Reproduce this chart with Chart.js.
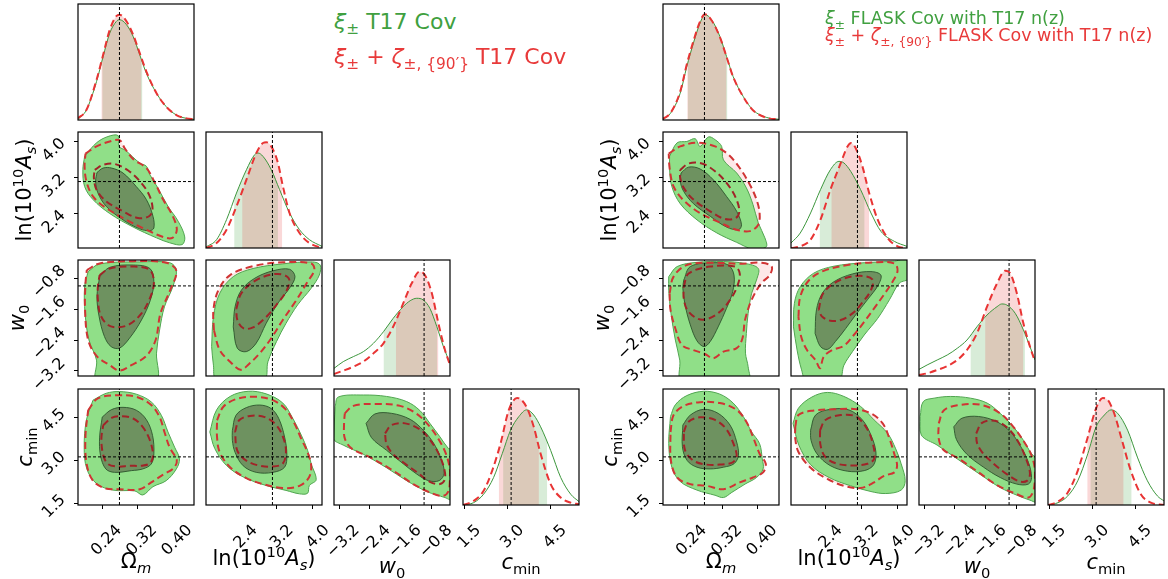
<!DOCTYPE html>
<html>
<head>
<meta charset="utf-8">
<script src="https://cdn.jsdelivr.net/npm/chart.js@4.4.0/dist/chart.umd.min.js"></script>
<style>
  body { margin: 0; background: #fff; width: 1168px; height: 579px; position: relative; overflow: hidden; font-family: "DejaVu Sans", sans-serif; }
  canvas { position: absolute; }
  .lab { position: absolute; white-space: nowrap; font-size: 21px; color: #000; transform: translate(-50%, -50%); }
  .ylab { transform: translate(-50%, -50%) rotate(-90deg); }
  .leg { position: absolute; white-space: nowrap; }
  sub, sup { font-size: 70%; line-height: 0; }
</style>
</head>
<body>
<script>
// axes: Omega_m, ln(10^10 A_s), w0, c_min
const omRange = [0.185, 0.448], asRange = [1.625, 4.2], wRange = [-3.33, -0.33], cRange = [1.45, 5.5];
const omTicks = [0.24, 0.32, 0.40], asTicks = [2.4, 3.2, 4.0], wTicks = [-3.2, -2.4, -1.6, -0.8], cTicks = [1.5, 3.0, 4.5];
const truthValues = [0.279, 3.1, -1.0, 3.13];

// ---------- left: T17 Cov ----------
// 1D marginals [x, density]; bands = [lo, yLo, hi, yHi]
const L_om_g = [[0.185,.006],[0.204,.086],[0.227,.331],[0.242,.548],[0.257,.749],[0.272,.850],[0.279,.865],[0.295,.821],[0.310,.720],[0.325,.562],[0.340,.403],[0.363,.231],[0.385,.115],[0.408,.043],[0.431,.014],[0.448,.006]];
const L_om_r = [[0.185,.014],[0.204,.086],[0.227,.346],[0.242,.562],[0.257,.778],[0.272,.896],[0.279,.908],[0.295,.850],[0.310,.735],[0.325,.576],[0.340,.418],[0.363,.231],[0.385,.115],[0.408,.043],[0.431,.014],[0.448,.006]];
const L_om_gb = [0.240, .52, 0.331, .49], L_om_rb = [0.238, .51, 0.329, .52];
const L_as_g = [[1.625,.009],[1.86,.072],[2.081,.244],[2.302,.474],[2.523,.675],[2.706,.805],[2.78,.819],[2.89,.790],[3.074,.675],[3.258,.503],[3.479,.302],[3.70,.158],[3.92,.072],[4.20,.014]];
const L_as_r = [[1.625,0],[1.86,.043],[2.081,.158],[2.302,.359],[2.523,.589],[2.743,.819],[2.89,.905],[2.964,.911],[3.074,.876],[3.222,.733],[3.332,.532],[3.479,.302],[3.70,.129],[3.92,.043],[4.20,0]];
const L_as_gb = [2.25, .42, 3.222, .54], L_as_rb = [2.427, .49, 3.317, .56];
const L_w_g = [[-3.33,.066],[-3.09,.124],[-2.83,.167],[-2.57,.210],[-2.31,.282],[-2.05,.382],[-1.80,.497],[-1.54,.598],[-1.36,.649],[-1.19,.670],[-1.02,.655],[-0.85,.583],[-0.67,.425],[-0.50,.253],[-0.33,.109]];
const L_w_r = [[-3.33,.017],[-3.09,.046],[-2.83,.080],[-2.57,.124],[-2.31,.195],[-2.05,.282],[-1.80,.425],[-1.54,.626],[-1.32,.799],[-1.12,.899],[-0.98,.871],[-0.80,.713],[-0.63,.454],[-0.46,.224],[-0.33,.095]];
const L_w_gb = [-2.05, .382, -0.66, .41], L_w_rb = [-1.73, .48, -0.63, .454];
const L_c_g = [[1.45,0],[1.82,.020],[2.17,.093],[2.52,.238],[2.82,.442],[3.11,.645],[3.40,.762],[3.67,.820],[3.92,.776],[4.16,.674],[4.51,.471],[4.86,.238],[5.21,.093],[5.50,.029]];
const L_c_r = [[1.45,0],[1.82,.035],[2.17,.122],[2.47,.297],[2.76,.529],[3.05,.820],[3.34,.922],[3.46,.913],[3.69,.834],[3.92,.674],[4.16,.442],[4.51,.180],[4.86,.064],[5.21,.020],[5.50,.006]];
const L_c_gb = [2.85, .46, 4.39, .54], L_c_rb = [2.70, .48, 4.10, .50];

// 2D contours (95% and 68%)
const L_om_as_g95 = [[0.200,3.66],[0.227,3.96],[0.253,4.10],[0.276,4.12],[0.278,3.88],[0.293,3.79],[0.325,3.51],[0.340,3.44],[0.348,3.25],[0.366,2.96],[0.389,2.55],[0.412,2.22],[0.427,1.87],[0.421,1.70],[0.393,1.74],[0.363,1.85],[0.310,2.09],[0.257,2.39],[0.219,2.70],[0.200,2.99],[0.196,3.36]];
const L_om_as_g68 = [[0.228,3.30],[0.242,3.40],[0.261,3.40],[0.287,3.29],[0.317,2.99],[0.340,2.70],[0.355,2.33],[0.357,2.07],[0.348,2.01],[0.325,2.05],[0.287,2.25],[0.249,2.55],[0.230,2.85],[0.225,3.11]];
const L_om_as_r95 = [[0.202,3.72],[0.227,3.88],[0.257,3.99],[0.279,4.02],[0.291,3.84],[0.310,3.60],[0.340,3.40],[0.359,3.08],[0.378,2.70],[0.400,2.33],[0.409,2.03],[0.399,1.85],[0.378,1.87],[0.340,2.03],[0.295,2.25],[0.249,2.51],[0.219,2.77],[0.204,3.11],[0.200,3.44]];
const L_om_as_r68 = [[0.223,3.36],[0.242,3.47],[0.268,3.49],[0.298,3.35],[0.325,3.11],[0.346,2.81],[0.354,2.49],[0.346,2.33],[0.321,2.29],[0.287,2.44],[0.249,2.66],[0.227,2.92],[0.221,3.18]];

const L_om_w_g95 = [[0.208,-0.63],[0.234,-0.43],[0.325,-0.38],[0.393,-0.40],[0.408,-0.59],[0.400,-1.02],[0.381,-1.54],[0.370,-2.14],[0.363,-2.74],[0.361,-3.45],[0.228,-3.45],[0.227,-2.92],[0.210,-2.40],[0.201,-1.71],[0.200,-1.02]];
const L_om_w_g68 = [[0.234,-0.76],[0.257,-0.52],[0.310,-0.46],[0.348,-0.55],[0.357,-0.89],[0.349,-1.37],[0.329,-1.88],[0.302,-2.35],[0.279,-2.61],[0.260,-2.57],[0.245,-2.31],[0.233,-1.80],[0.228,-1.28]];
const L_om_w_r95 = [[0.205,-0.59],[0.234,-0.42],[0.310,-0.36],[0.385,-0.40],[0.408,-0.61],[0.394,-1.11],[0.372,-1.71],[0.361,-2.40],[0.340,-2.81],[0.306,-3.05],[0.279,-3.19],[0.257,-3.05],[0.227,-2.81],[0.208,-2.40],[0.201,-1.62],[0.202,-0.93]];
const L_om_w_r68 = [[0.234,-0.72],[0.257,-0.55],[0.310,-0.50],[0.348,-0.59],[0.357,-0.93],[0.348,-1.32],[0.329,-1.71],[0.302,-1.99],[0.276,-2.07],[0.253,-2.01],[0.236,-1.75],[0.230,-1.36],[0.230,-1.02]];

const L_as_w_g95 = [[1.75,-2.57],[1.79,-1.80],[1.93,-1.19],[2.23,-0.76],[2.67,-0.55],[3.33,-0.43],[3.99,-0.38],[4.16,-0.46],[4.14,-0.72],[3.96,-1.06],[3.66,-1.49],[3.40,-1.97],[3.19,-2.44],[3.00,-2.96],[2.91,-3.42],[1.86,-3.42],[1.79,-3.05]];
const L_as_w_g68 = [[2.23,-2.06],[2.27,-1.54],[2.41,-1.11],[2.71,-0.80],[3.11,-0.61],[3.48,-0.57],[3.60,-0.76],[3.49,-1.04],[3.22,-1.45],[2.96,-1.97],[2.74,-2.48],[2.52,-2.70],[2.32,-2.61]];
const L_as_w_r95 = [[1.80,-2.14],[1.79,-1.62],[1.90,-1.11],[2.16,-0.72],[2.67,-0.49],[3.33,-0.39],[3.96,-0.42],[4.03,-0.59],[3.88,-0.89],[3.63,-1.37],[3.33,-1.88],[3.07,-2.36],[2.82,-2.74],[2.58,-3.02],[2.39,-3.17],[2.16,-2.96],[1.93,-2.66]];
const L_as_w_r68 = [[2.30,-1.58],[2.41,-1.19],[2.74,-0.85],[3.19,-0.69],[3.46,-0.80],[3.42,-1.11],[3.19,-1.49],[2.93,-1.84],[2.67,-2.07],[2.46,-2.10],[2.32,-1.88]];

const L_om_c_g95 = [[0.219,5.11],[0.249,5.35],[0.279,5.41],[0.317,5.32],[0.351,5.05],[0.374,4.58],[0.389,4.00],[0.404,3.47],[0.415,3.06],[0.408,2.71],[0.385,2.30],[0.355,2.09],[0.332,1.80],[0.314,1.94],[0.264,1.97],[0.227,2.20],[0.205,2.71],[0.199,3.47],[0.204,4.41]];
const L_om_c_g68 = [[0.240,4.52],[0.261,4.78],[0.287,4.86],[0.317,4.76],[0.340,4.43],[0.354,3.88],[0.357,3.24],[0.351,2.88],[0.332,2.71],[0.306,2.65],[0.268,2.59],[0.248,2.71],[0.236,3.18],[0.234,3.82]];
const L_om_c_r95 = [[0.208,4.76],[0.230,5.17],[0.272,5.28],[0.317,5.23],[0.351,4.94],[0.370,4.52],[0.381,4.00],[0.393,3.45],[0.409,3.02],[0.402,2.74],[0.378,2.51],[0.351,2.24],[0.325,2.00],[0.279,2.00],[0.245,2.04],[0.218,2.32],[0.204,2.94],[0.202,3.88]];
const L_om_c_r68 = [[0.242,4.23],[0.261,4.49],[0.283,4.55],[0.310,4.47],[0.332,4.17],[0.348,3.71],[0.355,3.21],[0.349,2.92],[0.329,2.82],[0.302,2.82],[0.276,2.79],[0.253,2.88],[0.242,3.21],[0.238,3.76]];

const L_as_c_g95 = [[1.71,4.00],[1.86,4.77],[2.16,5.24],[2.56,5.42],[2.96,5.33],[3.33,5.01],[3.55,4.48],[3.74,3.89],[3.88,3.36],[3.96,2.89],[4.07,2.33],[3.92,2.13],[3.88,1.86],[3.70,1.84],[3.40,1.96],[2.96,2.13],[2.45,2.43],[2.08,2.83],[1.82,3.42]];
const L_as_c_g68 = [[2.21,4.05],[2.29,4.58],[2.52,4.85],[2.82,4.94],[3.07,4.82],[3.24,4.47],[3.37,3.82],[3.42,3.21],[3.37,2.77],[3.11,2.59],[2.74,2.59],[2.45,2.82],[2.27,3.29],[2.21,3.71]];
const L_as_c_r95 = [[1.87,4.41],[2.01,4.88],[2.30,5.15],[2.71,5.23],[3.11,5.11],[3.40,4.78],[3.59,4.29],[3.74,3.76],[3.88,3.29],[3.96,2.82],[3.91,2.41],[3.70,2.12],[3.33,2.04],[2.89,2.18],[2.52,2.39],[2.16,2.77],[1.93,3.29],[1.87,3.82]];
const L_as_c_r68 = [[2.27,4.00],[2.36,4.41],[2.60,4.56],[2.93,4.52],[3.19,4.23],[3.35,3.76],[3.40,3.29],[3.33,2.90],[3.11,2.79],[2.82,2.82],[2.52,3.00],[2.32,3.35]];

const L_w_c_g95 = [[-3.30,4.89],[-3.22,5.22],[-2.57,5.29],[-1.97,5.24],[-1.45,5.06],[-1.11,4.75],[-0.85,4.30],[-0.59,3.83],[-0.37,3.42],[-0.30,3.40],[-0.30,1.65],[-0.46,1.71],[-0.93,1.92],[-1.45,2.30],[-1.97,2.75],[-2.57,3.22],[-3.09,3.54],[-3.34,3.77]];
const L_w_c_g68 = [[-2.50,4.30],[-2.27,4.63],[-1.84,4.65],[-1.36,4.44],[-1.02,4.06],[-0.76,3.62],[-0.56,3.06],[-0.48,2.56],[-0.61,2.30],[-0.89,2.30],[-1.19,2.53],[-1.54,2.89],[-1.97,3.36],[-2.36,3.80]];
const L_w_c_r95 = [[-3.05,4.65],[-2.83,4.91],[-2.23,4.98],[-1.62,4.91],[-1.19,4.63],[-0.85,4.18],[-0.61,3.71],[-0.43,3.22],[-0.33,2.65],[-0.35,2.00],[-0.50,1.77],[-0.85,1.89],[-1.28,2.18],[-1.80,2.65],[-2.40,3.12],[-2.87,3.42],[-3.05,3.77],[-3.07,4.30]];
const L_w_c_r68 = [[-2.01,3.95],[-1.84,4.24],[-1.49,4.30],[-1.11,4.09],[-0.85,3.73],[-0.63,3.26],[-0.49,2.77],[-0.46,2.36],[-0.59,2.18],[-0.85,2.26],[-1.15,2.56],[-1.49,2.89],[-1.80,3.22],[-1.97,3.57]];

// ---------- right: FLASK Cov with T17 n(z) ----------
const R_om_g = [[0.185,.006],[0.202,.058],[0.224,.231],[0.239,.461],[0.254,.663],[0.269,.836],[0.280,.908],[0.295,.865],[0.314,.720],[0.329,.548],[0.344,.375],[0.367,.202],[0.389,.086],[0.419,.023],[0.448,.006]];
const R_om_r = [[0.185,.010],[0.202,.060],[0.224,.245],[0.239,.480],[0.254,.680],[0.269,.850],[0.280,.912],[0.295,.860],[0.314,.715],[0.329,.545],[0.344,.372],[0.367,.200],[0.389,.084],[0.419,.020],[0.448,.004]];
const R_om_gb = [0.241, .49, 0.331, .52], R_om_rb = [0.240, .50, 0.329, .55];
const R_as_g = [[1.625,.043],[1.83,.129],[2.06,.302],[2.28,.503],[2.50,.675],[2.69,.747],[2.80,.733],[2.95,.661],[3.17,.503],[3.40,.302],[3.62,.144],[3.92,.057],[4.20,.014]];
const R_as_r = [[1.625,0],[1.83,.014],[2.06,.072],[2.28,.244],[2.50,.503],[2.73,.733],[2.88,.876],[2.96,.905],[3.06,.862],[3.21,.704],[3.36,.474],[3.55,.244],[3.77,.086],[3.99,.014],[4.20,0]];
const R_as_gb = [2.26, .48, 3.26, .42], R_as_rb = [2.52, .52, 3.36, .474];
const R_w_g = [[-3.33,.057],[-3.12,.095],[-2.86,.138],[-2.60,.181],[-2.34,.239],[-2.09,.310],[-1.83,.425],[-1.57,.526],[-1.31,.598],[-1.19,.621],[-1.06,.612],[-0.84,.540],[-0.63,.397],[-0.46,.253],[-0.33,.138]];
const R_w_r = [[-3.33,.009],[-3.12,.023],[-2.86,.052],[-2.60,.086],[-2.34,.138],[-2.09,.224],[-1.83,.368],[-1.57,.598],[-1.31,.799],[-1.10,.908],[-0.97,.885],[-0.80,.713],[-0.63,.454],[-0.46,.253],[-0.33,.124]];
const R_w_gb = [-2.00, .35, -0.59, .36], R_w_rb = [-1.62, .55, -0.63, .454];
const R_c_g = [[1.45,0],[1.80,.020],[2.14,.078],[2.49,.209],[2.84,.442],[3.13,.674],[3.42,.776],[3.65,.820],[3.88,.791],[4.23,.645],[4.57,.413],[4.92,.209],[5.27,.078],[5.50,.035]];
const R_c_r = [[1.45,0],[1.80,.029],[2.14,.108],[2.49,.297],[2.84,.587],[3.13,.834],[3.36,.922],[3.53,.907],[3.76,.791],[4.00,.587],[4.34,.297],[4.69,.093],[5.04,.020],[5.50,0]];
const R_c_gb = [2.93, .51, 4.37, .55], R_c_rb = [2.82, .57, 4.09, .51];

const R_om_as_g95 = [[0.200,3.66],[0.217,3.96],[0.239,3.99],[0.258,4.05],[0.269,3.88],[0.288,4.09],[0.303,4.03],[0.318,3.88],[0.322,3.58],[0.352,3.29],[0.374,2.96],[0.389,2.59],[0.401,2.18],[0.416,1.85],[0.419,1.65],[0.389,1.60],[0.352,1.75],[0.307,1.96],[0.262,2.25],[0.224,2.61],[0.205,2.99],[0.200,3.36]];
const R_om_as_g68 = [[0.226,3.29],[0.243,3.42],[0.269,3.38],[0.299,3.14],[0.329,2.77],[0.352,2.44],[0.363,2.14],[0.356,2.03],[0.329,2.09],[0.292,2.33],[0.254,2.61],[0.232,2.88],[0.224,3.11]];
const R_om_as_r95 = [[0.198,3.72],[0.224,3.88],[0.262,3.96],[0.303,3.88],[0.333,3.70],[0.359,3.40],[0.382,3.03],[0.397,2.70],[0.404,2.40],[0.401,2.14],[0.382,2.00],[0.352,2.03],[0.314,2.19],[0.269,2.40],[0.232,2.68],[0.209,2.99],[0.200,3.40]];
const R_om_as_r68 = [[0.224,3.36],[0.243,3.50],[0.273,3.50],[0.303,3.33],[0.329,3.07],[0.350,2.74],[0.358,2.44],[0.350,2.29],[0.325,2.27],[0.292,2.44],[0.254,2.70],[0.232,2.96],[0.224,3.18]];

const R_om_w_g95 = [[0.198,-0.76],[0.217,-0.50],[0.262,-0.39],[0.322,-0.37],[0.371,-0.42],[0.401,-0.55],[0.397,-0.85],[0.386,-1.19],[0.378,-1.71],[0.374,-2.23],[0.372,-2.74],[0.378,-3.09],[0.378,-3.48],[0.228,-3.48],[0.223,-2.92],[0.213,-2.40],[0.203,-1.71],[0.198,-1.11]];
const R_om_w_g68 = [[0.232,-0.85],[0.247,-0.50],[0.299,-0.40],[0.333,-0.46],[0.346,-0.72],[0.343,-1.15],[0.329,-1.58],[0.310,-2.06],[0.292,-2.44],[0.278,-2.57],[0.262,-2.42],[0.247,-2.01],[0.235,-1.49],[0.230,-1.06]];
const R_om_w_r95 = [[0.200,-1.19],[0.209,-0.76],[0.239,-0.46],[0.299,-0.40],[0.359,-0.43],[0.404,-0.40],[0.431,-0.49],[0.427,-0.72],[0.408,-0.93],[0.386,-1.36],[0.371,-1.88],[0.365,-2.36],[0.352,-2.61],[0.322,-2.70],[0.299,-2.87],[0.280,-2.76],[0.254,-2.66],[0.228,-2.53],[0.213,-2.10],[0.202,-1.62]];
const R_om_w_r68 = [[0.232,-1.02],[0.243,-0.68],[0.292,-0.50],[0.348,-0.50],[0.359,-0.68],[0.353,-1.02],[0.337,-1.36],[0.314,-1.67],[0.284,-1.86],[0.262,-1.84],[0.240,-1.62],[0.232,-1.32]];

const R_as_w_g95 = [[1.68,-2.06],[1.70,-1.45],[1.83,-1.02],[2.13,-0.67],[2.58,-0.49],[3.25,-0.40],[3.92,-0.36],[4.25,-0.30],[4.25,-0.80],[4.03,-0.93],[3.81,-1.36],[3.55,-1.84],[3.25,-2.27],[2.99,-2.70],[2.80,-3.05],[2.69,-3.43],[1.96,-3.43],[1.86,-3.17],[1.76,-2.66]];
const R_as_w_g68 = [[2.16,-2.23],[2.19,-1.62],[2.32,-1.19],[2.58,-0.89],[2.99,-0.69],[3.40,-0.63],[3.62,-0.72],[3.56,-0.98],[3.32,-1.36],[3.06,-1.75],[2.84,-2.10],[2.61,-2.44],[2.44,-2.64],[2.28,-2.57]];
const R_as_w_r95 = [[1.79,-1.80],[1.83,-1.28],[2.02,-0.86],[2.35,-0.61],[2.88,-0.46],[3.47,-0.39],[3.92,-0.42],[3.99,-0.61],[3.88,-0.89],[3.68,-1.24],[3.47,-1.58],[3.25,-1.93],[3.02,-2.27],[2.80,-2.55],[2.54,-2.66],[2.35,-2.83],[2.27,-3.13],[2.17,-2.92],[1.98,-2.66],[1.85,-2.31]];
const R_as_w_r68 = [[2.24,-1.62],[2.34,-1.19],[2.69,-0.86],[3.14,-0.74],[3.43,-0.83],[3.40,-1.11],[3.21,-1.43],[2.99,-1.71],[2.73,-1.88],[2.50,-1.90],[2.32,-1.80]];

const R_om_c_g95 = [[0.202,4.54],[0.213,4.95],[0.239,5.27],[0.277,5.42],[0.314,5.32],[0.344,5.01],[0.367,4.54],[0.386,4.00],[0.404,3.59],[0.410,3.06],[0.412,2.71],[0.397,2.41],[0.371,2.18],[0.341,1.89],[0.322,1.71],[0.303,1.79],[0.262,1.97],[0.224,2.27],[0.205,2.77],[0.198,3.59]];
const R_om_c_g68 = [[0.230,4.24],[0.247,4.59],[0.277,4.79],[0.310,4.65],[0.337,4.24],[0.352,3.65],[0.356,3.18],[0.346,2.89],[0.322,2.77],[0.292,2.71],[0.262,2.77],[0.240,3.00],[0.229,3.48]];
const R_om_c_r95 = [[0.202,4.00],[0.209,4.59],[0.232,4.91],[0.269,5.04],[0.314,5.01],[0.352,4.77],[0.374,4.36],[0.389,3.83],[0.404,3.24],[0.418,2.89],[0.412,2.59],[0.389,2.41],[0.359,2.24],[0.322,2.00],[0.284,2.12],[0.247,2.18],[0.217,2.41],[0.203,3.00]];
const R_om_c_r68 = [[0.232,4.00],[0.243,4.36],[0.269,4.51],[0.303,4.42],[0.329,4.09],[0.346,3.54],[0.352,3.15],[0.343,2.94],[0.314,2.86],[0.284,2.86],[0.254,3.00],[0.235,3.36]];

const R_as_c_g95 = [[1.67,4.30],[1.79,4.83],[2.09,5.22],[2.43,5.38],[2.80,5.24],[3.17,4.89],[3.47,4.42],[3.77,3.95],[3.95,3.41],[4.07,2.89],[4.16,2.30],[4.07,1.97],[3.73,1.85],[3.40,1.92],[2.95,2.12],[2.47,2.41],[2.06,2.86],[1.80,3.54]];
const R_as_c_g68 = [[2.06,4.06],[2.17,4.59],[2.50,4.79],[2.91,4.77],[3.21,4.42],[3.40,3.89],[3.51,3.30],[3.46,2.85],[3.25,2.65],[2.88,2.63],[2.49,2.83],[2.20,3.24],[2.07,3.71]];
const R_as_c_r95 = [[1.72,4.18],[1.79,4.59],[2.13,4.75],[2.58,4.79],[3.02,4.80],[3.40,4.65],[3.66,4.30],[3.81,3.77],[3.92,3.22],[3.98,2.83],[3.92,2.59],[3.69,2.47],[3.47,2.24],[3.17,2.04],[2.80,2.12],[2.43,2.36],[2.06,2.75],[1.79,3.30],[1.72,3.77]];
const R_as_c_r68 = [[2.27,4.06],[2.39,4.42],[2.73,4.59],[3.06,4.54],[3.31,4.12],[3.45,3.54],[3.47,3.06],[3.32,2.89],[3.02,2.83],[2.65,2.89],[2.39,3.12],[2.28,3.54]];

const R_w_c_g95 = [[-3.30,4.54],[-3.22,5.06],[-2.94,5.18],[-2.52,5.24],[-2.00,5.18],[-1.57,5.01],[-1.23,4.65],[-0.89,4.18],[-0.63,3.71],[-0.42,3.24],[-0.24,3.00],[-0.24,1.55],[-0.46,1.62],[-0.76,1.77],[-1.23,2.06],[-1.74,2.51],[-2.34,3.06],[-2.86,3.54],[-3.27,3.89]];
const R_w_c_g68 = [[-2.43,4.18],[-2.22,4.48],[-1.79,4.54],[-1.32,4.36],[-0.97,4.01],[-0.72,3.54],[-0.50,2.94],[-0.42,2.41],[-0.50,2.18],[-0.80,2.18],[-1.23,2.41],[-1.66,2.77],[-2.09,3.22],[-2.36,3.73]];
const R_w_c_r95 = [[-2.82,4.30],[-2.69,4.75],[-2.34,4.93],[-1.74,4.95],[-1.23,4.65],[-0.89,4.18],[-0.61,3.65],[-0.42,3.18],[-0.33,2.65],[-0.36,2.00],[-0.50,1.71],[-0.84,1.85],[-1.32,2.15],[-1.83,2.63],[-2.34,3.10],[-2.70,3.38],[-2.82,3.77]];
const R_w_c_r68 = [[-1.85,3.95],[-1.70,4.32],[-1.36,4.39],[-1.02,4.12],[-0.76,3.65],[-0.56,3.06],[-0.46,2.56],[-0.53,2.30],[-0.73,2.27],[-1.06,2.53],[-1.40,2.89],[-1.70,3.30],[-1.83,3.62]];

// ---------- layout / style ----------
const COL_X = [78, 206, 334, 463], ROW_Y = [4, 132, 260, 389], PW = 116, PH = 116;
const RIGHT_OFFSET = 585;
const M = 70, YW = 50, XH = 50;   // canvas margin, y-axis width, x-axis height
const ranges = [omRange, asRange, wRange, cRange];
const ticksList = [omTicks, asTicks, wTicks, cTicks];
const decimals = [2, 1, 1, 1];
// rotated tick labels: shift along the axis so they sit like matplotlib's
const xLabelShift = [17, 14, 18, 14], yLabelShift = [0, 0, -10, -6];

const G_OUT = 'rgb(144,223,136)', G_IN = 'rgb(110,146,96)';
const G_OUT_LINE = 'rgb(80,165,80)', G_IN_LINE = 'rgba(45,85,45,0.9)';
const R_OUT_LINE = 'rgb(208,52,52)', R_IN_LINE = 'rgb(160,36,40)', R_FILL = 'rgba(240,100,100,0.15)';
const NONE = 'rgba(0,0,0,0)';

Chart.defaults.font.family = 'DejaVu Sans';

const fmt = (v, d) => v.toFixed(d).replace('-', '\u2212');

const frame = {
  id: 'frame',
  afterDraw(chart) {
    const {ctx, chartArea: a} = chart;
    ctx.save();
    ctx.strokeStyle = '#000';
    ctx.lineWidth = 1.2;
    ctx.strokeRect(a.left, a.top, a.right - a.left, a.bottom - a.top);
    ctx.restore();
  }
};

function axis(p, show, dir) {
  return {
    type: 'linear', min: ranges[p][0], max: ranges[p][1], display: show,
    afterBuildTicks: s => { s.ticks = ticksList[p].map(v => ({value: v})); },
    afterFit: s => {
      if (!show) return;
      if (dir === 'x') s.height = XH; else s.width = YW;
    },
    grid: {display: true, drawOnChartArea: false, drawTicks: true, tickLength: 4, color: '#000', lineWidth: 1},
    border: {display: false},
    ticks: {
      autoSkip: false, minRotation: 45, maxRotation: 45, color: '#000',
      font: {size: 16},
      padding: dir === 'x' ? 12 : 11,
      labelOffset: dir === 'x' ? xLabelShift[p] : yLabelShift[p],
      callback: v => fmt(v, decimals[p])
    }
  };
}

const pts = arr => arr.map(([x, y]) => ({x, y}));

function shape(arr, fillColor, lineColor, width, dash) {
  const d = pts(arr);
  d.push(d[0]);
  return {data: d, fill: fillColor ? 'shape' : false, backgroundColor: fillColor || NONE,
    borderColor: lineColor || NONE, borderWidth: width || 1, borderDash: dash || [],
    tension: 0.35, pointRadius: 0};
}
function curve(arr, color, width, dash) {
  return {data: pts(arr), fill: false, borderColor: color, borderWidth: width, borderDash: dash,
    cubicInterpolationMode: 'monotone', pointRadius: 0};
}
function band(arr, b, color) {
  const d = [[b[0], b[1]], ...arr.filter(p => p[0] > b[0] && p[0] < b[2]), [b[2], b[3]]];
  return {data: pts(d), fill: 'origin', backgroundColor: color, borderColor: NONE, borderWidth: 1,
    cubicInterpolationMode: 'monotone', pointRadius: 0};
}
function seg(x0, y0, x1, y1) {
  return {data: [{x: x0, y: y0}, {x: x1, y: y1}], fill: false, borderColor: '#000', borderWidth: 1,
    borderDash: [3, 2], pointRadius: 0};
}

function panel(ox, col, row, datasets) {
  const px = ox + COL_X[col], py = ROW_Y[row];
  const showX = row === 3, showY = col === 0 && row > 0;
  const c = document.createElement('canvas');
  const w = PW + 2 * M, h = PH + 2 * M;
  c.width = w; c.height = h;
  c.style.left = (px - M) + 'px'; c.style.top = (py - M) + 'px';
  c.style.width = w + 'px'; c.style.height = h + 'px';
  document.body.appendChild(c);
  datasets.forEach((d, i) => { d.order = -i; });
  new Chart(c, {
    type: 'line',
    data: {datasets},
    options: {
      responsive: false, animation: false, events: [], devicePixelRatio: 1,
      layout: {padding: {left: showY ? M - YW : M, top: M, right: M, bottom: showX ? M - XH : M}},
      plugins: {legend: {display: false}, tooltip: {enabled: false}},
      scales: {
        x: axis(col, showX, 'x'),
        y: row === col ? {type: 'linear', display: false, min: 0, max: 1} : axis(row, showY, 'y')
      }
    },
    plugins: [frame]
  });
}

function cornerPlot(ox, diag, pairs) {
  for (let r = 0; r < 4; r++) {
    for (let c = 0; c <= r; c++) {
      const ds = [];
      if (r === c) {
        const [g, rd, gb, rb] = diag[r];
        ds.push(band(g, gb, 'rgba(60,160,60,0.2)'));
        ds.push(band(rd, rb, 'rgba(230,60,60,0.2)'));
        ds.push(curve(g, 'rgb(60,150,60)', 1, []));
        ds.push(curve(rd, 'rgb(232,52,52)', 2, [7, 4]));
        ds.push(seg(truthValues[c], 0, truthValues[c], 1));
      } else {
        const [g95, g68, r95, r68] = pairs[r][c];
        ds.push(shape(r95, R_FILL, NONE));
        ds.push(shape(g95, G_OUT, G_OUT_LINE, 1));
        ds.push(shape(g68, G_IN, G_IN_LINE, 1));
        ds.push(shape(r95, null, R_OUT_LINE, 2, [7, 4]));
        ds.push(shape(r68, null, R_IN_LINE, 2, [7, 4]));
        ds.push(seg(truthValues[c], ranges[r][0], truthValues[c], ranges[r][1]));
        ds.push(seg(ranges[c][0], truthValues[r], ranges[c][1], truthValues[r]));
      }
      panel(ox, c, r, ds);
    }
  }
}

cornerPlot(0,
  [[L_om_g, L_om_r, L_om_gb, L_om_rb], [L_as_g, L_as_r, L_as_gb, L_as_rb], [L_w_g, L_w_r, L_w_gb, L_w_rb], [L_c_g, L_c_r, L_c_gb, L_c_rb]],
  [[], [[L_om_as_g95, L_om_as_g68, L_om_as_r95, L_om_as_r68]],
   [[L_om_w_g95, L_om_w_g68, L_om_w_r95, L_om_w_r68], [L_as_w_g95, L_as_w_g68, L_as_w_r95, L_as_w_r68]],
   [[L_om_c_g95, L_om_c_g68, L_om_c_r95, L_om_c_r68], [L_as_c_g95, L_as_c_g68, L_as_c_r95, L_as_c_r68], [L_w_c_g95, L_w_c_g68, L_w_c_r95, L_w_c_r68]]]);

cornerPlot(RIGHT_OFFSET,
  [[R_om_g, R_om_r, R_om_gb, R_om_rb], [R_as_g, R_as_r, R_as_gb, R_as_rb], [R_w_g, R_w_r, R_w_gb, R_w_rb], [R_c_g, R_c_r, R_c_gb, R_c_rb]],
  [[], [[R_om_as_g95, R_om_as_g68, R_om_as_r95, R_om_as_r68]],
   [[R_om_w_g95, R_om_w_g68, R_om_w_r95, R_om_w_r68], [R_as_w_g95, R_as_w_g68, R_as_w_r95, R_as_w_r68]],
   [[R_om_c_g95, R_om_c_g68, R_om_c_r95, R_om_c_r68], [R_as_c_g95, R_as_c_g68, R_as_c_r95, R_as_c_r68], [R_w_c_g95, R_w_c_g68, R_w_c_r95, R_w_c_r68]]]);

// ---------- text: axis titles and legends ----------
const axisTitles = ['\u03a9<sub><i>m</i></sub>', 'ln(10<sup>10</sup><i>A</i><sub><i>s</i></sub>)', '<i>w</i><sub>0</sub>', '<i>c</i><sub>min</sub>'];
const xTitleY = [561, 558, 566, 562];
const yTitleX = [0, 24, 17, 25];

function addDiv(cls, html, x, y, style) {
  const d = document.createElement('div');
  d.className = cls;
  d.innerHTML = html;
  d.style.left = x + 'px'; d.style.top = y + 'px';
  if (style) Object.assign(d.style, style);
  document.body.appendChild(d);
}

[0, RIGHT_OFFSET].forEach(ox => {
  for (let c = 0; c < 4; c++) addDiv('lab', axisTitles[c], ox + COL_X[c] + PW / 2, xTitleY[c]);
  for (let r = 1; r < 4; r++) addDiv('lab ylab', axisTitles[r], ox + yTitleX[r], ROW_Y[r] + PH / 2);
});

const legXi = '<i>\u03be</i><sub>\u00b1</sub>';
const legZeta = legXi + ' + <i>\u03b6</i><sub>\u00b1, {90\u2032}</sub>';
addDiv('leg', legXi + ' T17 Cov', 334, 11, {fontSize: '22px', lineHeight: '22px', color: 'rgb(64,160,64)'});
addDiv('leg', legZeta + ' T17 Cov', 334, 46, {fontSize: '22px', lineHeight: '22px', color: 'rgb(232,58,58)'});
addDiv('leg', legXi + ' FLASK Cov with T17 n(z)', 825, 10, {fontSize: '17.5px', lineHeight: '17.5px', color: 'rgb(64,160,64)'});
addDiv('leg', legZeta + ' FLASK Cov with T17 n(z)', 825, 27, {fontSize: '17.5px', lineHeight: '17.5px', color: 'rgb(232,58,58)'});
</script>
</body>
</html>
